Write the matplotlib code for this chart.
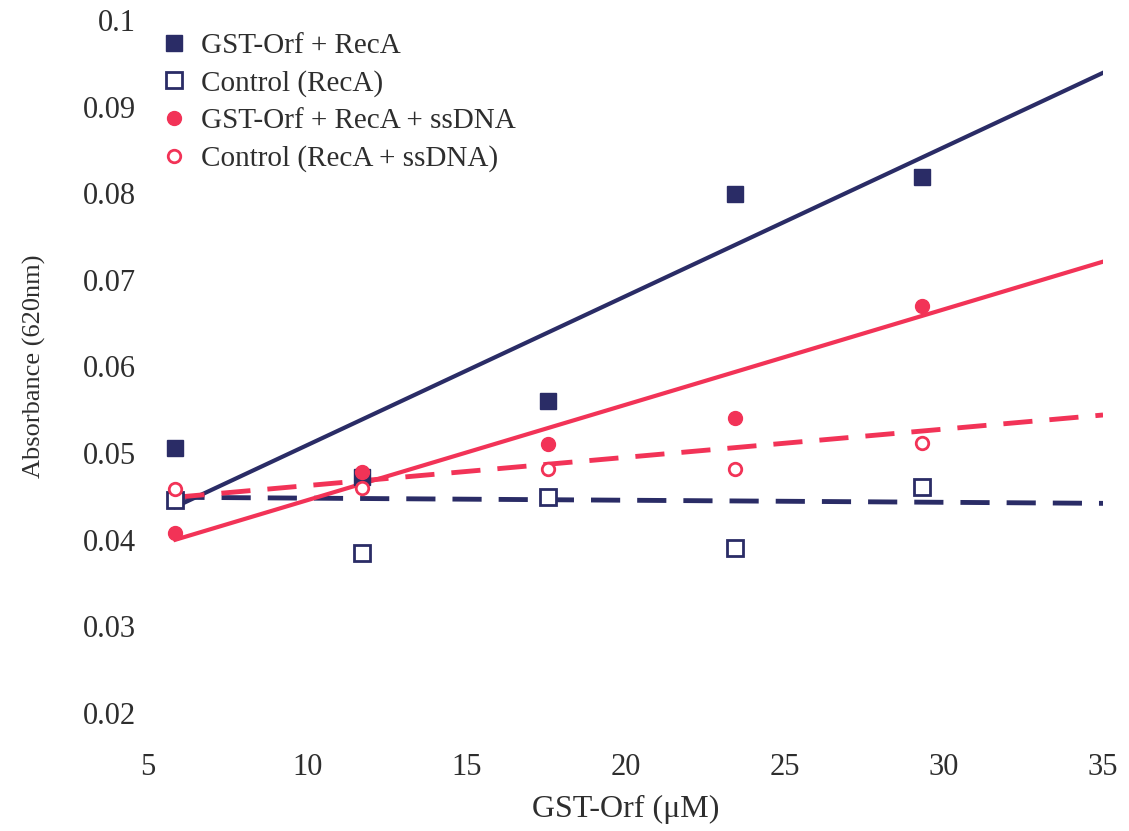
import numpy as np
import matplotlib
matplotlib.use("Agg")
import matplotlib.pyplot as plt

plt.rcParams['font.family'] = ['Liberation Serif', 'DejaVu Serif']

# Data
x = [5.86, 11.72, 17.58, 23.44, 29.3]
gst_reca = [0.0506, 0.0472, 0.0560, 0.0799, 0.0819]
ctrl_reca = [0.0446, 0.0385, 0.0449, 0.0390, 0.0461]
gst_reca_ss = [0.0408, 0.0478, 0.0510, 0.0540, 0.0670]
ctrl_reca_ss = [0.0458, 0.0460, 0.0482, 0.0482, 0.0512]

# Trend lines (value at start x and end x)
trend_x = [5.86, 35.0]
trend_gst_reca = [0.0438, 0.0939]
trend_ctrl_reca = [0.0449, 0.0442]
trend_gst_reca_ss = [0.0400, 0.0721]
trend_ctrl_reca_ss = [0.0449, 0.0544]

labels = ["GST-Orf + RecA", "Control (RecA)", "GST-Orf + RecA + ssDNA", "Control (RecA + ssDNA)"]
xticks = [5, 10, 15, 20, 25, 30, 35]
yticks = [0.02, 0.03, 0.04, 0.05, 0.06, 0.07, 0.08, 0.09, 0.1]
ytick_labels = ["0.02", "0.03", "0.04", "0.05", "0.06", "0.07", "0.08", "0.09", "0.1"]

navy = "#2a2c66"
red = "#f23357"
txt = '#2e2e2e'

fig = plt.figure(figsize=(11.29, 8.31), dpi=100)
ax = fig.add_axes([0.1311, 0.142, 0.977 - 0.1311, 0.976 - 0.142])

ax.plot(trend_x, trend_gst_reca, color=navy, lw=3, zorder=2)
ax.plot(trend_x, trend_ctrl_reca, color=navy, lw=3.5, ls=(0, (6, 3.5)), zorder=2)
ax.plot(trend_x, trend_gst_reca_ss, color=red, lw=3, zorder=2)
ax.plot(trend_x, trend_ctrl_reca_ss, color=red, lw=3.5, ls=(0, (6, 3.5)), zorder=2)

ax.plot(x, gst_reca, ls='none', marker='s', ms=12, mfc=navy, mec=navy, label=labels[0], zorder=3)
ax.plot(x, ctrl_reca, ls='none', marker='s', ms=11, mfc='white', mec=navy, mew=2, label=labels[1], zorder=3)
ax.plot(x, gst_reca_ss, ls='none', marker='o', ms=10, mfc=red, mec=red, label=labels[2], zorder=3)
ax.plot(x, ctrl_reca_ss, ls='none', marker='o', ms=9, mfc='white', mec=red, mew=2, label=labels[3], zorder=3)

ax.set_xlim(5, 35)
ax.set_ylim(0.02, 0.1)
ax.set_xticks(xticks)
ax.set_xticklabels([str(t) for t in xticks])
ax.set_yticks(yticks)
ax.set_yticklabels(ytick_labels)
for s in ax.spines.values():
    s.set_visible(False)
ax.tick_params(axis='both', length=0, labelsize=22, colors=txt)
ax.tick_params(axis='x', pad=29)
ax.tick_params(axis='y', pad=9)

ax.set_xlabel("GST-Orf (\u03bcM)", fontsize=23, color=txt, labelpad=9)
ax.set_ylabel("Absorbance (620nm)", fontsize=19, color=txt, labelpad=26)

leg = ax.legend(loc='upper left', bbox_to_anchor=(0.0, 1.003), frameon=False, fontsize=21,
                handlelength=0.8, handletextpad=0.5, labelspacing=0.38, borderaxespad=0.1,
                labelcolor=txt)

fig.savefig("out.png", dpi=100)
